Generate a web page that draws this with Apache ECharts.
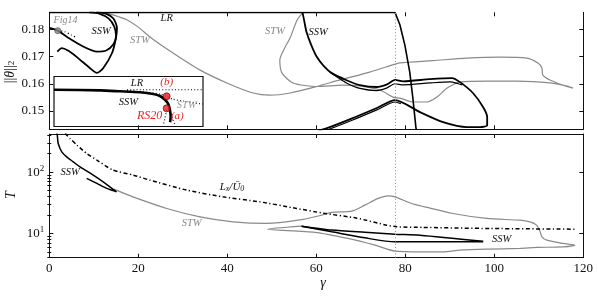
<!DOCTYPE html>
<html>
<head>
<meta charset="utf-8">
<script src="https://cdn.jsdelivr.net/npm/echarts@6/dist/echarts.min.js"></script>
<style>
html,body{margin:0;padding:0;background:#fff;}
#chart{width:598px;height:304px;}
</style>
</head>
<body>
<div id="chart"></div>
<script>
// ---------- tick values ----------
const xTicks = [0, 20, 40, 60, 80, 100, 120];
const yTicksTop = [0.15, 0.16, 0.17, 0.18];
const yTicksBottom = [10, 100];
const yMinorBottom = [4, 5, 6, 7, 8, 9, 20, 30, 40, 50, 60, 70, 80, 90, 200, 300, 400];
const gammaCrit = 77.7;

// ---------- top panel: ||theta||_2 vs gamma ----------
const lrTop = [[0, 0.1862], [77.7, 0.1862], [78.8, 0.1816], [79.9, 0.1742], [81.0, 0.1643], [81.7, 0.1547], [82.4, 0.1437], [82.6, 0.1428]];
const stwTop = [[12.0, 0.1862], [14.5, 0.1852], [17.5, 0.1834], [20.0, 0.1808], [22.6, 0.1772], [27.8, 0.1713], [33.9, 0.1650], [39.9, 0.1603], [45.8, 0.1566], [49.6, 0.1558], [54.1, 0.1566], [60.1, 0.1590], [65.3, 0.1614], [72.0, 0.1643], [77.7, 0.1672], [78.8, 0.1677], [86.2, 0.1685], [93.8, 0.1694], [101.3, 0.1698], [107.3, 0.1694], [109.8, 0.1676], [110.7, 0.1658], [110.9, 0.1632], [112.5, 0.1614], [115.4, 0.1595], [117.7, 0.1584], [116.4, 0.1591], [112.5, 0.1603], [105.1, 0.1610], [98.4, 0.1610], [92.3, 0.1606], [89.4, 0.1584], [87.1, 0.1551], [84.9, 0.1533], [81.7, 0.1533], [78.8, 0.1547], [77.2, 0.1551], [74.3, 0.1577], [69.8, 0.1592], [66.0, 0.1595], [60.1, 0.1590], [54.8, 0.1603], [52.3, 0.1639], [51.8, 0.1687], [53.0, 0.1735], [54.1, 0.1768], [55.7, 0.1834], [57.0, 0.1862]];
const sswTopUpper = [[0, 0.1805], [1.9, 0.1795], [4.0, 0.1772], [7.6, 0.1737], [10.7, 0.1718], [12.8, 0.1722], [14.4, 0.1745], [15.0, 0.1775], [14.6, 0.1810], [13.3, 0.1840], [11.2, 0.1858], [9.0, 0.1862]];
const sswTopLower = [[1.8, 0.1718], [2.8, 0.1731], [4.2, 0.1722], [6.2, 0.1698], [9.1, 0.1658], [10.7, 0.1640], [12.1, 0.1657], [14.1, 0.1713], [15.0, 0.1770], [15.2, 0.1805], [14.4, 0.1840], [12.8, 0.1857], [10.5, 0.1862]];
const fig14Dotted = [[1.9, 0.1795], [3.5, 0.1791], [5.0, 0.1779], [6.2, 0.1769]];
const fig14Point = [[1.9, 0.1795]];
const sswTopRight = [[56.9, 0.1862], [57.3, 0.1830], [57.8, 0.1790], [58.8, 0.1745], [60.1, 0.1699], [61.7, 0.1665], [63.4, 0.1640], [66.8, 0.1613], [69.8, 0.1595], [73.6, 0.1588], [75.9, 0.1598], [77.7, 0.1614], [79.5, 0.1609], [85.5, 0.1617], [90.5, 0.1621], [92.3, 0.1606], [95.2, 0.1566], [97.5, 0.1514], [98.4, 0.1478], [98.4, 0.1448], [96.8, 0.1441], [93.9, 0.1441], [88.5, 0.1459], [83.3, 0.1496], [77.7, 0.1540], [73.6, 0.1511], [68.2, 0.1474], [62.4, 0.1437], [60.5, 0.1428]];
const sswTopRightTwinA = [[63.0, 0.1643], [64.5, 0.1627], [66.8, 0.1603], [69.8, 0.1583], [73.6, 0.1575], [75.9, 0.1585], [77.7, 0.1600], [79.5, 0.1596], [85.5, 0.1603], [90.1, 0.1607], [91.9, 0.1600], [92.8, 0.1596]];
const sswTopRightTwinB = [[79.0, 0.1527], [77.7, 0.1533], [73.6, 0.1504], [68.2, 0.1467], [62.4, 0.1430], [61.5, 0.1426]];

// ---------- bottom panel: T vs gamma ----------
const sswBottomLeft = [[1.7, 430], [1.8, 400], [2.0, 294], [2.8, 215], [3.9, 178], [5.4, 147], [6.9, 122], [9.1, 97.4], [12.1, 69.5], [15.1, 47.6], [12.9, 54.2], [10.7, 65.4], [8.4, 78.9]];
const lxOverU0 = [[3.6, 430], [3.9, 403], [4.65, 355], [6.2, 276], [8.4, 202], [10.7, 157], [14.3, 108], [18.9, 89.3], [22.6, 74], [30.9, 50.8], [39.0, 39.5], [47.3, 32.7], [55.6, 25.5], [61.5, 21.4], [69.1, 17.7], [75.8, 13.6], [78.1, 12.8], [83.9, 12.5], [99.0, 12.0], [118.6, 11.7]];
const stwBottom = [[14.5, 52.7], [18.8, 39.4], [26.4, 25.5], [33.9, 18.6], [41.3, 15.4], [48.9, 14.5], [55.9, 16.4], [61.2, 19.8], [63.5, 22.0], [68.0, 23.1], [70.9, 28.9], [73.9, 37.2], [76.1, 41.0], [77.7, 39.5], [81.4, 30.8], [84.4, 27.1], [90.7, 21.1], [98.3, 17.5], [105.8, 16.4], [108.0, 15.4], [109.5, 13.6], [110.3, 10.6], [110.7, 8.78], [111.8, 7.74], [115.4, 6.84], [118.1, 6.41], [115.4, 6.01], [109.5, 5.88], [105.8, 5.67], [98.3, 5.52], [92.3, 5.31], [88.5, 4.99], [83.3, 4.99], [77.7, 5.12], [73.2, 6.41], [67.1, 8.26], [59.7, 10.4], [49.1, 11.7], [56.7, 13.1]];
const sswBottomRightUpper = [[56.7, 13.1], [63.5, 11.3], [70.9, 10.4], [77.7, 9.71], [83.3, 9.35], [97.5, 7.4]];
const sswBottomRightLower = [[56.7, 13.1], [63.5, 10.6], [70.9, 8.44], [77.7, 7.26], [83.3, 7.26], [97.5, 7.3]];

// ---------- inset (unitless zoom) ----------
const insetSSW = [[0, 0.735], [0.309, 0.722], [0.443, 0.704], [0.577, 0.684], [0.666, 0.65], [0.711, 0.61], [0.745, 0.536], [0.767, 0.45], [0.779, 0.316], [0.783, 0.184], [0.779, 0.084]];
const insetLR = [[0.49, 0.735], [1.0, 0.735]];
const insetSTW = [[0.49, 0.72], [0.577, 0.696], [0.644, 0.676], [0.711, 0.65], [0.756, 0.604], [0.799, 0.544], [0.866, 0.51], [0.958, 0.464], [1.0, 0.45]];
const insetTailA = [[0.756, 0.33], [0.745, 0.17], [0.732, 0.01]];
const insetTailB = [[0.785, 0.25], [0.8, 0.13], [0.812, 0.03]];
const insetPoints = [[0.756, 0.604], [0.756, 0.364]];

// ---------- styling / build ----------
const GRAY = '#8a8a8a';
const SERIF = 'Liberation Serif';
const chart = echarts.init(document.getElementById('chart'), null, {renderer: 'canvas'});

function line(data, xi, yi, color, width, type, smooth, z) {
  return {
    type: 'line', data: data, xAxisIndex: xi, yAxisIndex: yi,
    showSymbol: false, symbol: 'none', smooth: smooth === undefined ? 0.25 : smooth,
    lineStyle: {color: color, width: width, type: type || 'solid'},
    z: z || 2, silent: true
  };
}
function vline(xi, yi) {
  return {
    type: 'line', data: [], xAxisIndex: xi, yAxisIndex: yi,
    markLine: {silent: true, symbol: 'none', label: {show: false},
      lineStyle: {color: '#999', width: 1, type: [1.2, 2]},
      data: [{xAxis: gammaCrit}]}
  };
}
const axLine = {show: true, onZero: false, lineStyle: {color: '#111', width: 1}};
const tickSt = {color: '#111', width: 1};

function xAx(grid, pos, showLine, showLabel) {
  return {
    gridIndex: grid, type: 'value', min: xTicks[0], max: xTicks[xTicks.length - 1], interval: 20,
    position: pos, axisLine: showLine ? axLine : {show: false, onZero: false},
    axisTick: {show: true, inside: true, length: 4, lineStyle: tickSt},
    axisLabel: {show: showLabel, margin: 4, color: '#111', fontFamily: SERIF, fontSize: 13},
    splitLine: {show: false}
  };
}
function yLog(pos, vals, len, showLine, showLabel) {
  return {
    gridIndex: 1, type: 'log', logBase: 10, min: 4, max: 420, position: pos,
    axisLine: showLine ? axLine : {show: false},
    axisTick: {show: true, inside: true, length: len, customValues: vals, lineStyle: tickSt},
    axisLabel: {show: showLabel, customValues: vals, margin: 5, color: '#111', fontFamily: SERIF,
      formatter: function (v) { return '{n|10}{e|' + Math.round(Math.log10(v)) + '}'; },
      rich: {n: {fontFamily: SERIF, fontSize: 13, color: '#111'}, e: {fontFamily: SERIF, fontSize: 9, color: '#111', padding: [0, 0, 7, 0]}}},
    splitLine: {show: false}, minorTick: {show: false}
  };
}
function yTop(pos, showLabel) {
  return {
    gridIndex: 0, type: 'value', min: 0.14327, max: 0.18625, position: pos,
    axisLine: axLine,
    axisTick: {show: true, inside: true, length: 4, customValues: yTicksTop, lineStyle: tickSt},
    axisLabel: {show: showLabel, customValues: yTicksTop, margin: 5, color: '#111', fontFamily: SERIF, fontSize: 13,
      formatter: function (v) { return v.toFixed(2); }},
    splitLine: {show: false}
  };
}

function txt(x, y, s, color, size, extra) {
  const st = Object.assign({text: s, x: 0, y: 0, fill: color || '#111', font: 'italic ' + (size || 11) + 'px "' + SERIF + '"',
    align: 'center', verticalAlign: 'middle'}, extra || {});
  return {type: 'text', x: x, y: y, z: 50, style: st, silent: true};
}

const option = {
  animation: false,
  backgroundColor: '#fff',
  grid: [
    {left: 49.3, top: 12.3, width: 534, height: 117},
    {left: 49.3, top: 134, width: 534, height: 123.7},
    {left: 54, top: 76.5, width: 149, height: 50, show: true, borderColor: '#111', borderWidth: 1.2, backgroundColor: '#fff'}
  ],
  xAxis: [
    xAx(0, 'bottom', true, false),
    xAx(0, 'top', false, false),
    xAx(1, 'bottom', true, true),
    xAx(1, 'top', true, false),
    {gridIndex: 2, type: 'value', min: 0, max: 1, show: false}
  ],
  yAxis: [
    yTop('left', true),
    yTop('right', false),
    yLog('left', yTicksBottom, 4, true, true),
    yLog('right', yTicksBottom, 4, true, false),
    yLog('left', yMinorBottom, 2, false, false),
    yLog('right', yMinorBottom, 2, false, false),
    {gridIndex: 2, type: 'value', min: 0, max: 1, show: false}
  ],
  series: [
    vline(0, 0),
    line(stwTop, 0, 0, GRAY, 1.2),
    line(lrTop, 0, 0, '#000', 1.6, 'solid', false),
    line(sswTopUpper, 0, 0, '#000', 1.8),
    line(sswTopLower, 0, 0, '#000', 1.8),
    line(fig14Dotted, 0, 0, '#000', 1.3, [1, 2.5], 0.2),
    line(sswTopRight, 0, 0, '#000', 1.8),
    line(sswTopRightTwinA, 0, 0, '#000', 1.2),
    line(sswTopRightTwinB, 0, 0, '#000', 1.2),
    {type: 'scatter', data: fig14Point, xAxisIndex: 0, yAxisIndex: 0, symbolSize: 6, z: 5,
      itemStyle: {color: '#888', borderColor: '#444', borderWidth: 0.8}, silent: true},

    vline(2, 2),
    line(stwBottom, 2, 2, GRAY, 1.2),
    line(lxOverU0, 2, 2, '#000', 1.5, [4, 2.5, 1.2, 2.5], 0.2),
    line(sswBottomLeft, 2, 2, '#000', 1.5),
    line(sswBottomRightUpper, 2, 2, '#000', 1.5),
    line(sswBottomRightLower, 2, 2, '#000', 1.5),

    line(insetLR, 4, 6, '#000', 1.2, [1, 2.2], false, 4),
    line(insetSTW, 4, 6, '#222', 1.2, [1, 2.2], 0.2, 4),
    line(insetTailA, 4, 6, '#222', 1.2, [1, 2.2], 0.2, 4),
    line(insetTailB, 4, 6, '#222', 1.2, [1, 2.2], 0.2, 4),
    line(insetSSW, 4, 6, '#000', 2.6, 'solid', 0.25, 4),
    {type: 'scatter', data: insetPoints, xAxisIndex: 4, yAxisIndex: 6, symbolSize: 7, z: 6,
      itemStyle: {color: '#ee1c1c', borderColor: '#5a0000', borderWidth: 0.8}, silent: true}
  ],
  graphic: [
    txt(65.5, 20, 'Fig14', '#8a8a8a', 10),
    txt(101, 31.5, 'SSW', '#111', 10.5),
    txt(166.7, 18.3, 'LR', '#111', 10.5),
    txt(140, 40, 'STW', '#8a8a8a', 10.5),
    txt(275, 31.7, 'STW', '#8a8a8a', 10.5),
    txt(318, 32.7, 'SSW', '#111', 10.5),
    txt(137, 83.3, 'LR', '#111', 10.5),
    txt(166.7, 82.3, '(b)', '#ee2222', 11),
    txt(128.3, 102.3, 'SSW', '#111', 10.5),
    txt(186.7, 105, 'STW', '#9a9a9a', 10.5),
    txt(149.7, 115.7, 'RS20', '#ee2222', 12),
    txt(177.3, 115.7, '(a)', '#ee2222', 11),
    txt(70, 172, 'SSW', '#111', 10.5),
    txt(191.7, 223.3, 'STW', '#8a8a8a', 10.5),
    txt(501.7, 239.3, 'SSW', '#111', 10.5),
    {type: 'text', x: 232, y: 189, z: 50, silent: true, style: {
      text: '{i|L}{s|x}{i|/Ū}{s|0}', x: 0, y: 0, align: 'center', verticalAlign: 'middle',
      rich: {i: {font: 'italic 11px "' + SERIF + '"', fill: '#111', padding: [0, 0, 3, 0]},
             s: {font: 'italic 8px "' + SERIF + '"', fill: '#111'}}}},
    {type: 'text', x: 12, y: 72, rotation: Math.PI / 2, z: 50, silent: true, style: {
      text: '{n|||}{t|θ}{n|||}{s|2}', x: 0, y: 0, align: 'center', verticalAlign: 'middle',
      rich: {n: {font: '14px "' + SERIF + '"', fill: '#111', padding: [0, 0, 3, 0]},
             t: {font: 'italic 14px "' + SERIF + '"', fill: '#111', padding: [0, 0, 3, 0]},
             s: {font: '9px "' + SERIF + '"', fill: '#111'}}}},
    {type: 'text', x: 11, y: 195, rotation: Math.PI / 2, z: 50, silent: true, style: {
      text: 'T', x: 0, y: 0, align: 'center', verticalAlign: 'middle', font: 'italic 14px "' + SERIF + '"', fill: '#111'}},
    {type: 'text', x: 323, y: 283, z: 50, silent: true, style: {
      text: 'γ', x: 0, y: 0, align: 'center', verticalAlign: 'middle', font: 'italic 14px "' + SERIF + '"', fill: '#111'}}
  ]
};
chart.setOption(option);
</script>
</body>
</html>
